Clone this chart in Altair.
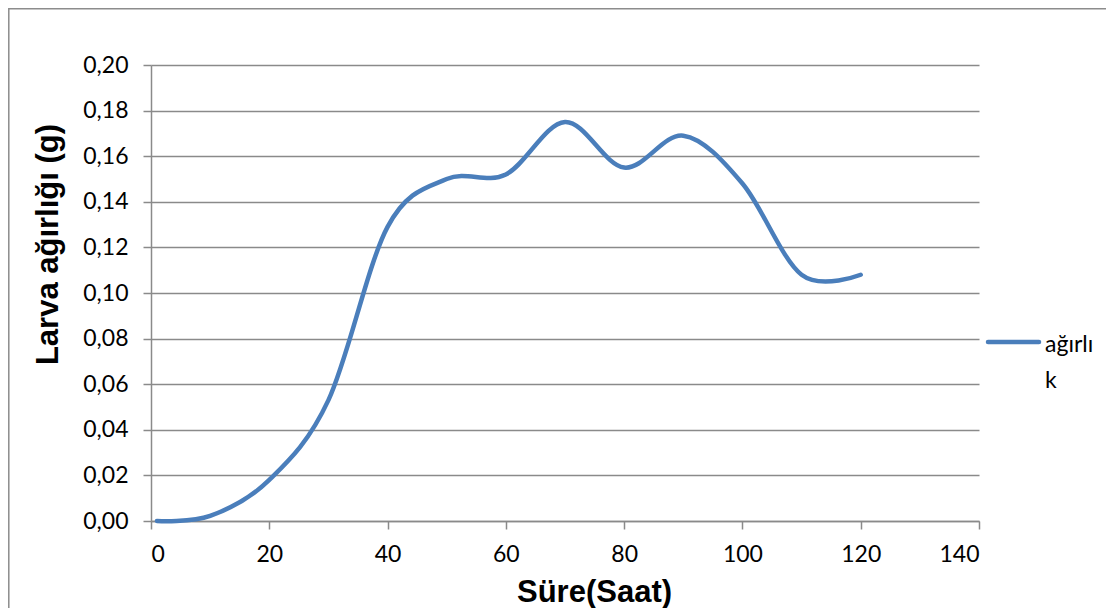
import altair as alt
import pandas as pd

# Data
hours = [1, 10, 20, 30, 40, 50, 60, 70, 80, 90, 100, 110, 120]
weights = [0.000, 0.0022, 0.018, 0.053, 0.129, 0.150, 0.152, 0.175, 0.155, 0.169, 0.148, 0.108, 0.108]
series_name = "ağırlık"
legend_label = "ağırlı\nk"   # the legend entry wraps in the reference
x_ticks = [0, 20, 40, 60, 80, 100, 120, 140]
y_ticks = [0.00, 0.02, 0.04, 0.06, 0.08, 0.10, 0.12, 0.14, 0.16, 0.18, 0.20]

df = pd.DataFrame({"t": hours, "w": weights, "s": [series_name] * len(hours)})
legend_df = pd.DataFrame({"s": [series_name], "label": [legend_label]})

LINE_BLUE = "#4a7ebb"
GRID = "#8a8a8a"
LABEL_FONT = "Lato"
TITLE_FONT = "Liberation Sans"

color_scale = alt.Scale(domain=[series_name], range=[LINE_BLUE])

frame = alt.Chart(pd.DataFrame({"k": [0]})).mark_rect(
    fill="white", fillOpacity=0, stroke="#8c8c8c", strokeWidth=1.5
).encode(
    x=alt.value(-142.2), x2=alt.value(1100), y=alt.value(-56.2), y2=alt.value(700)
)

line = alt.Chart(df).mark_line(
    interpolate="cardinal", strokeWidth=4.5, strokeCap="round"
).encode(
    x=alt.X(
        "t:Q",
        scale=alt.Scale(domain=[0, 140], nice=False),
        axis=alt.Axis(
            values=x_ticks,
            title="Süre(Saat)",
            grid=False,
            tickSize=8,
            labelPadding=14,
            titleX=443,
            titleY=80,
            titleAlign="center",
            titleBaseline="alphabetic",
        ),
    ),
    y=alt.Y(
        "w:Q",
        scale=alt.Scale(domain=[0, 0.2], nice=False),
        axis=alt.Axis(
            values=y_ticks,
            labelExpr="replace(format(datum.value, '.2f'), '.', ',')",
            title="Larva ağırlığı (g)",
            grid=True,
            tickSize=8,
            labelPadding=15,
            titleAngle=270,
            titleX=-94,
            titleY=179,
            titleAlign="center",
            titleBaseline="alphabetic",
        ),
    ),
    color=alt.Color("s:N", scale=color_scale, legend=None),
)

legend_symbol = alt.Chart(legend_df).mark_rule(
    strokeWidth=4.5, strokeCap="round"
).encode(
    x=alt.value(837), x2=alt.value(888), y=alt.value(277),
    color=alt.Color("s:N", scale=color_scale, legend=None),
)

legend_text = alt.Chart(legend_df).mark_text(
    align="left", baseline="alphabetic", lineBreak="\n", lineHeight=36.5,
    font=LABEL_FONT, fontSize=23, color="black",
).encode(
    x=alt.value(894), y=alt.value(286.5), text="label:N",
)

chart = (
    alt.layer(frame, line, legend_symbol, legend_text)
    .properties(
        width=828,
        height=456,
        autosize=alt.AutoSizeParams(type="none"),
        padding={"left": 143, "top": 57, "right": 127, "bottom": 87},
        background="white",
    )
    .configure_view(strokeWidth=0)
    .configure_axis(
        domainColor=GRID,
        domainWidth=1.5,
        tickColor=GRID,
        tickWidth=1.5,
        gridColor=GRID,
        gridWidth=1.5,
        labelFont=LABEL_FONT,
        labelFontSize=23,
        labelColor="black",
        titleFont=TITLE_FONT,
        titleFontSize=31,
        titleFontWeight="bold",
        titleColor="black",
    )
)

chart.save("out.html", embed_options={"renderer": "svg", "actions": False})
